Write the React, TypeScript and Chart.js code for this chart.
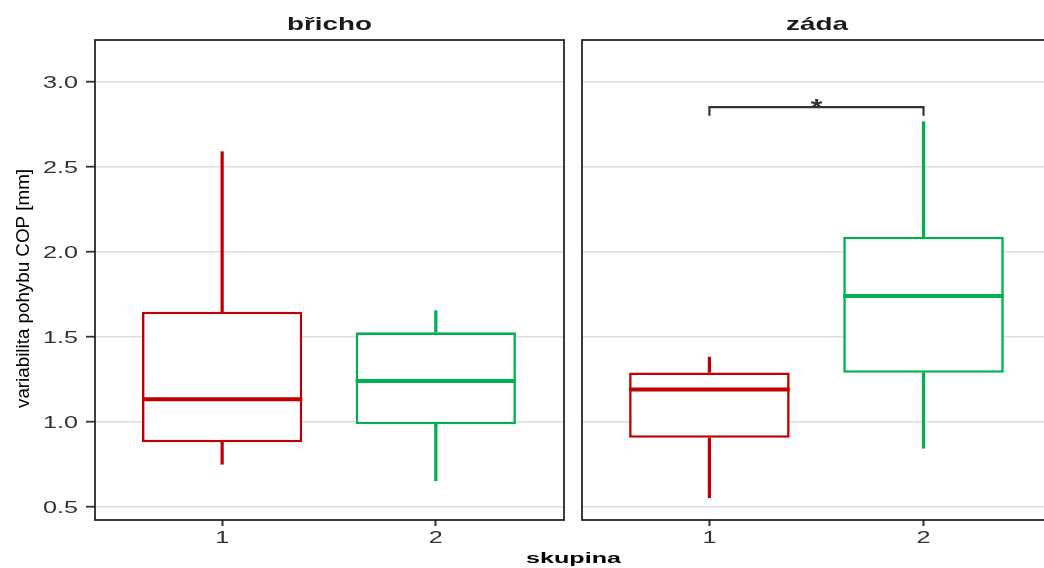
import React, { useEffect, useRef } from 'react';
import { Chart, registerables } from 'chart.js';

Chart.register(...registerables);

// ---------------- data ----------------
const groups = [1, 2];
const groupLabels = ['1', '2'];
const groupColors = ['#C00000', '#00B050'];
const panelTitles = ['břicho', 'záda'];
const yTicks = [0.5, 1.0, 1.5, 2.0, 2.5, 3.0];
const yTickLabels = ['0.5', '1.0', '1.5', '2.0', '2.5', '3.0'];
const yTitle = 'variabilita pohybu COP [mm]';
const xTitle = 'skupina';

// panel "břicho"
const brichoMin = [0.75, 0.653];
const brichoQ1 = [0.879, 0.985];
const brichoMedian = [1.132, 1.239];
const brichoQ3 = [1.647, 1.526];
const brichoMax = [2.588, 1.653];

// panel "záda"
const zadaMin = [0.553, 0.844];
const zadaQ1 = [0.905, 1.288];
const zadaMedian = [1.19, 1.739];
const zadaQ3 = [1.29, 2.088];
const zadaMax = [1.38, 2.765];

// significance bracket (panel "záda")
const sigPair = [1, 2];
const sigY = 2.85;
const sigTip = 2.8;
const sigLabel = '*';

// ---------------- layout / style ----------------
const Y_MIN = 0.422;
const Y_MAX = 3.245;
const X_MIN = 0.405;
const X_MAX = 2.6;
const BOX_WIDTH = 0.75;

const FAMILY = '"Liberation Sans", Arial, Helvetica, sans-serif';

function drawText(
  ctx: CanvasRenderingContext2D,
  text: string,
  x: number,
  y: number,
  font: string,
  color: string,
  align: CanvasTextAlign,
  baseline: CanvasTextBaseline,
  sx: number,
  rot = 0
) {
  ctx.save();
  ctx.font = font;
  ctx.fillStyle = color;
  ctx.textAlign = align;
  ctx.textBaseline = baseline;
  ctx.translate(x, y);
  if (rot) ctx.rotate(rot);
  ctx.scale(sx, 1);
  ctx.fillText(text, 0, 0);
  ctx.restore();
}

function stretchFor(ctx: CanvasRenderingContext2D, font: string, ref: string, target: number) {
  ctx.save();
  ctx.font = font;
  const w = ctx.measureText(ref).width;
  ctx.restore();
  return w > 0 ? target / w : 1;
}

function makeConfig(panel: number): any {
  const isLeft = panel === 0;
  const mins = isLeft ? brichoMin : zadaMin;
  const q1s = isLeft ? brichoQ1 : zadaQ1;
  const meds = isLeft ? brichoMedian : zadaMedian;
  const q3s = isLeft ? brichoQ3 : zadaQ3;
  const maxs = isLeft ? brichoMax : zadaMax;

  const datasets: any[] = [];
  groups.forEach((g, i) => {
    const color = groupColors[i];
    datasets.push({
      type: 'line',
      data: [
        { x: g - BOX_WIDTH / 2, y: meds[i] },
        { x: g + BOX_WIDTH / 2, y: meds[i] },
      ],
      borderColor: color,
      borderWidth: 4,
      borderCapStyle: 'butt',
      pointRadius: 0,
      order: 0,
    });
    datasets.push({
      type: 'bar',
      data: [{ x: g, y: [q1s[i], q3s[i]] }],
      backgroundColor: '#FFFFFF',
      borderColor: color,
      borderWidth: 2.6,
      borderSkipped: false,
      grouped: false,
      barPercentage: BOX_WIDTH,
      categoryPercentage: 1,
      order: 1,
    });
    datasets.push({
      type: 'bar',
      data: [
        { x: g, y: [q3s[i], maxs[i]] },
        { x: g, y: [mins[i], q1s[i]] },
      ],
      backgroundColor: color,
      borderWidth: 0,
      barThickness: 2.6,
      grouped: false,
      order: 2,
    });
  });

  if (!isLeft) {
    datasets.push({
      type: 'line',
      data: [
        { x: sigPair[0], y: sigTip },
        { x: sigPair[0], y: sigY },
        { x: sigPair[1], y: sigY },
        { x: sigPair[1], y: sigTip },
      ],
      borderColor: '#333333',
      borderWidth: 2.2,
      borderJoinStyle: 'miter',
      pointRadius: 0,
      order: 0,
      clip: false,
    });
  }

  const canvasW = isLeft ? 640 : 485;
  const plotRight = isLeft ? 564 : 1052 - 575;
  const yAxisW = isLeft ? 95 : 7;

  const decor = {
    id: 'facetDecor' + panel,
    afterDraw(chart: any) {
      const ctx: CanvasRenderingContext2D = chart.ctx;
      const a = chart.chartArea;
      const xs = chart.scales.x;
      const ys = chart.scales.y;

      // panel border
      ctx.save();
      ctx.strokeStyle = '#1A1A1A';
      ctx.lineWidth = 1.7;
      ctx.strokeRect(a.left, a.top, a.right - a.left, a.bottom - a.top);
      ctx.restore();

      // strip title
      const stripFont = `bold 19px ${FAMILY}`;
      const sxStrip = stretchFor(ctx, stripFont, panelTitles[0], 85);
      drawText(ctx, panelTitles[panel], (a.left + a.right) / 2, a.top - 10, stripFont, '#1A1A1A', 'center', 'alphabetic', sxStrip);

      // tick labels
      const tickFont = `17px ${FAMILY}`;
      const sxTick = stretchFor(ctx, tickFont, '3.0', 35);
      groups.forEach((g, i) => {
        drawText(ctx, groupLabels[i], xs.getPixelForValue(g), a.bottom + 23, tickFont, '#333333', 'center', 'alphabetic', sxTick);
      });

      if (isLeft) {
        yTicks.forEach((v, i) => {
          drawText(ctx, yTickLabels[i], a.left - 17, ys.getPixelForValue(v) + 6, tickFont, '#333333', 'right', 'alphabetic', sxTick);
        });
        // y title
        const yFont = `18px ${FAMILY}`;
        const sxY = stretchFor(ctx, yFont, yTitle, 239);
        drawText(ctx, yTitle, 24, (a.top + a.bottom) / 2 + 8.5, yFont, '#000000', 'center', 'middle', sxY, -Math.PI / 2);
        // x title (centered under both panels)
        const xFont = `bold 15px ${FAMILY}`;
        const sxX = stretchFor(ctx, xFont, xTitle, 95);
        drawText(ctx, xTitle, 573.5, 563, xFont, '#000000', 'center', 'alphabetic', sxX);
      } else {
        const sFont = `bold 24px ${FAMILY}`;
        drawText(
          ctx,
          sigLabel,
          (xs.getPixelForValue(sigPair[0]) + xs.getPixelForValue(sigPair[1])) / 2,
          ys.getPixelForValue(sigY) + 9,
          sFont,
          '#333333',
          'center',
          'alphabetic',
          1.25
        );
      }
    },
  };

  return {
    type: 'bar',
    data: { datasets },
    options: {
      responsive: false,
      animation: false,
      events: [],
      layout: { padding: { top: 40, left: 0, bottom: 0, right: canvasW - plotRight } },
      plugins: { legend: { display: false }, tooltip: { enabled: false }, title: { display: false } },
      scales: {
        x: {
          type: 'linear',
          min: X_MIN,
          max: X_MAX,
          offset: false,
          afterBuildTicks: (s: any) => {
            s.ticks = groups.map((v) => ({ value: v }));
          },
          afterFit: (s: any) => {
            s.height = 48;
          },
          ticks: { display: false },
          border: { display: false },
          grid: {
            display: true,
            offset: false,
            drawOnChartArea: false,
            drawTicks: true,
            tickLength: 6,
            tickColor: '#333333',
            tickWidth: 2,
          },
        },
        y: {
          type: 'linear',
          min: Y_MIN,
          max: Y_MAX,
          beginAtZero: false,
          afterBuildTicks: (s: any) => {
            s.ticks = yTicks.map((v) => ({ value: v }));
          },
          afterFit: (s: any) => {
            s.width = yAxisW;
          },
          ticks: { display: false },
          border: { display: false },
          grid: {
            display: true,
            color: '#DEDEDE',
            lineWidth: 1.4,
            drawTicks: isLeft,
            tickLength: 9,
            tickColor: '#333333',
            tickWidth: 1.8,
          },
        },
      },
    },
    plugins: [decor],
  };
}

export default function App() {
  const leftRef = useRef<HTMLCanvasElement>(null);
  const rightRef = useRef<HTMLCanvasElement>(null);

  useEffect(() => {
    const left = new Chart(leftRef.current as HTMLCanvasElement, makeConfig(0));
    const right = new Chart(rightRef.current as HTMLCanvasElement, makeConfig(1));
    return () => {
      left.destroy();
      right.destroy();
    };
  }, []);

  return (
    <div
      style={{
        position: 'fixed',
        left: 0,
        top: 0,
        width: 1044,
        height: 568,
        overflow: 'hidden',
        background: '#FFFFFF',
      }}
    >
      <canvas
        ref={leftRef}
        width={640}
        height={568}
        style={{ position: 'absolute', left: 0, top: 0, width: 640, height: 568 }}
      />
      <canvas
        ref={rightRef}
        width={485}
        height={568}
        style={{ position: 'absolute', left: 575, top: 0, width: 485, height: 568 }}
      />
    </div>
  );
}
